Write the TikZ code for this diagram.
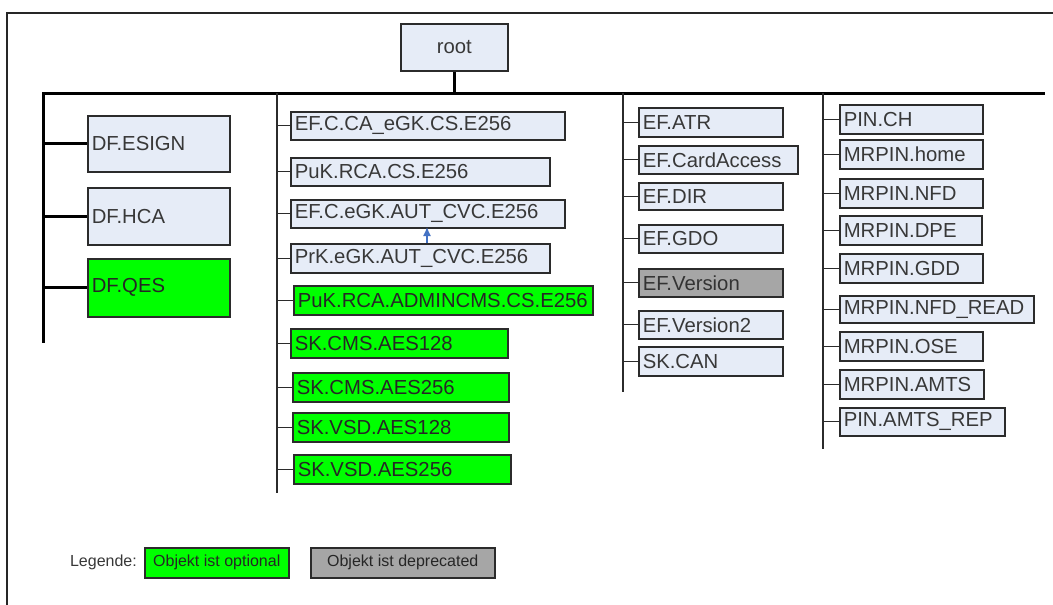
\documentclass[tikz,border=0pt]{standalone}
\usepackage{fontspec}
\setmainfont{Liberation Sans}
\usetikzlibrary{arrows.meta}
\definecolor{boxfill}{HTML}{E6ECF7}
\definecolor{optfill}{HTML}{00FF00}
\definecolor{depfill}{HTML}{A6A6A6}
\definecolor{edge}{HTML}{2B2B2B}
\definecolor{txt}{HTML}{383838}
\definecolor{linkblue}{HTML}{4472C4}
\tikzset{
  base/.style 2 args={draw=edge, line width=1.5pt, anchor=north west,
    inner xsep=4pt, inner ysep=0pt, text width={#1pt-8pt}, minimum height=#2pt,
    align=left, font=\fontsize{20.3}{23}\selectfont},
  lbox/.style 2 args={base={#1}{#2}, fill=boxfill, text=txt},
  obox/.style 2 args={base={#1}{#2}, fill=optfill, text=black!85},
  dbox/.style 2 args={base={#1}{#2}, fill=depfill, text=black!80},
  thick bus/.style={draw=black, line width=3pt},
  thin bus/.style={draw=edge, line width=1.2pt},
  legbox/.style 2 args={draw=edge, line width=1.5pt, anchor=north west, fill=#2,
    minimum width=#1pt, minimum height=30pt, inner sep=0pt,
    font=\fontsize{16}{18}\selectfont, text=black!85},
}
\begin{document}
\begin{tikzpicture}[x=1pt,y=-1pt]
\useasboundingbox (0,0) rectangle (1053,605);
\fill[white] (0,0) rectangle (1053,605);

% outer frame
\draw[draw=black!85, line width=2.5pt] (7,605) -- (7,13) -- (1053,13);

% root and main bus
\node[lbox={107}{47}, align=center] (root) at (400,23) {root};
\coordinate (busL) at (42,93);
\coordinate (busR) at (1045,93);
\draw[thick bus] (busL) -- (busR);
\draw[thick bus] (root.south) -- (root.south |- busL);

% column 1: dedicated files
\coordinate (t1top) at (43,93);
\coordinate (t1bot) at (43,343);
\draw[thick bus] (t1top) -- (t1bot);
\node[lbox={142}{56}] (esign) at (87,115) {DF.ESIGN};
\node[lbox={142}{57}] (hca) at (87,187) {DF.HCA};
\node[obox={142}{58}] (qes) at (87,258) {DF.QES};
\foreach \n in {esign,hca,qes}
  \draw[thick bus] (\n.west -| t1top) -- (\n.west);

% column 2: keys and certificates
\coordinate (t2top) at (277,93);
\coordinate (t2bot) at (277,493);
\draw[thin bus] (t2top) -- (t2bot);
\node[lbox={274}{28}] (c2a) at (290,111) {EF.C.CA\_eGK.CS.E256};
\node[lbox={259}{28}] (c2b) at (290,157) {PuK.RCA.CS.E256};
\node[lbox={274}{28}] (c2c) at (290,199) {EF.C.eGK.AUT\_CVC.E256};
\node[lbox={259}{29}] (c2d) at (290,243) {PrK.eGK.AUT\_CVC.E256};
\node[obox={299}{29}] (c2e) at (293,285) {PuK.RCA.ADMINCMS.CS.E256};
\node[obox={217}{29}] (c2f) at (290,328) {SK.CMS.AES128};
\node[obox={216}{29}] (c2g) at (292,372) {SK.CMS.AES256};
\node[obox={216}{29}] (c2h) at (292,412) {SK.VSD.AES128};
\node[obox={217}{29}] (c2i) at (293,454) {SK.VSD.AES256};
\foreach \n in {c2a,c2b,c2c,c2d,c2e,c2f,c2g,c2h,c2i}
  \draw[thin bus] (\n.west -| t2top) -- (\n.west);
\coordinate (lnkS) at (427,243);
\coordinate (lnkE) at (427,227);
\draw[draw=linkblue, line width=1.3pt, -{Latex[length=9pt,width=8pt]}] (lnkS) -- (lnkE);

% column 3: elementary files
\coordinate (t3top) at (623,93);
\coordinate (t3bot) at (623,392);
\draw[thin bus] (t3top) -- (t3bot);
\node[lbox={144}{29}] (c3a) at (638,107) {EF.ATR};
\node[lbox={159}{28}] (c3b) at (638,145) {EF.CardAccess};
\node[lbox={144}{27}] (c3c) at (638,182) {EF.DIR};
\node[lbox={144}{28}] (c3d) at (638,224) {EF.GDO};
\node[dbox={144}{28}] (c3e) at (638,268) {EF.Version};
\node[lbox={144}{28}] (c3f) at (638,310) {EF.Version2};
\node[lbox={144}{29}] (c3g) at (638,346) {SK.CAN};
\foreach \n in {c3a,c3b,c3c,c3d,c3e,c3f,c3g}
  \draw[thin bus] (\n.west -| t3top) -- (\n.west);

% column 4: passwords
\coordinate (t4top) at (823,93);
\coordinate (t4bot) at (823,449);
\draw[thin bus] (t4top) -- (t4bot);
\node[lbox={143}{29}] (c4a) at (839,104) {PIN.CH};
\node[lbox={143}{29}] (c4b) at (839,139) {MRPIN.home};
\node[lbox={143}{29}] (c4c) at (839,178) {MRPIN.NFD};
\node[lbox={142}{29}] (c4d) at (839,215) {MRPIN.DPE};
\node[lbox={143}{29}] (c4e) at (839,253) {MRPIN.GDD};
\node[lbox={194}{27}] (c4f) at (839,295) {MRPIN.NFD\_READ};
\node[lbox={143}{29}] (c4g) at (839,331) {MRPIN.OSE};
\node[lbox={144}{29}] (c4h) at (839,369) {MRPIN.AMTS};
\node[lbox={165}{28}] (c4i) at (839,407) {PIN.AMTS\_REP};
\foreach \n in {c4a,c4b,c4c,c4d,c4e,c4f,c4g,c4h,c4i}
  \draw[thin bus] (\n.west -| t4top) -- (\n.west);

% legend
\node[anchor=east, inner sep=0pt, font=\fontsize{16}{18}\selectfont, text=txt] (leg) at (137,562) {Legende:};
\node[legbox={144}{optfill}] (legopt) at (144,547) {Objekt ist optional};
\node[legbox={184}{depfill}] (legdep) at (310,547) {Objekt ist deprecated};
\end{tikzpicture}
\end{document}
